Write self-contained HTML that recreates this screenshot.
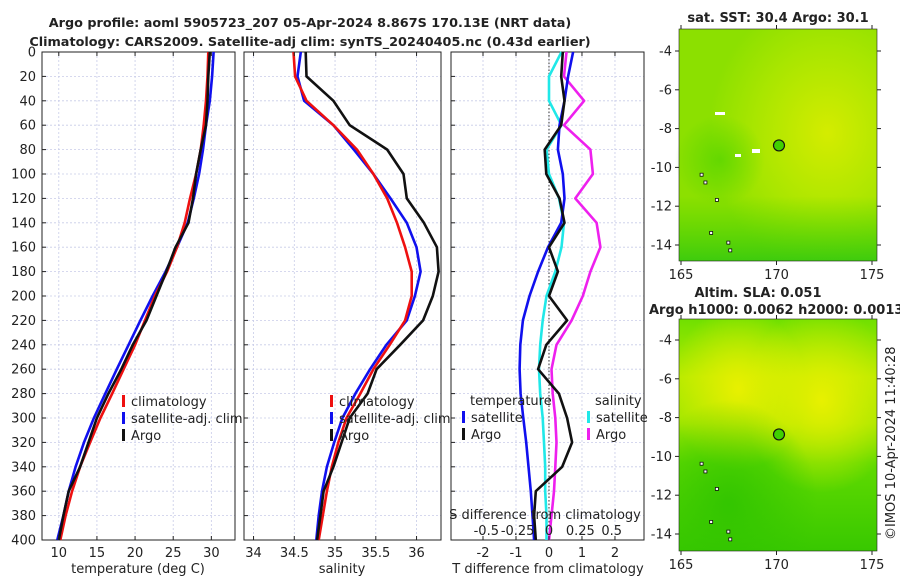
<!DOCTYPE html>
<html><head><meta charset="utf-8"><style>
body{margin:0;background:#fff;width:900px;height:580px;overflow:hidden}
svg{font-family:"DejaVu Sans","Liberation Sans",sans-serif}
</style></head><body>
<svg id="c" width="900" height="580" xmlns="http://www.w3.org/2000/svg">
<defs>
<radialGradient id="g1" cx="0.75" cy="0.45" r="0.6"><stop offset="0" stop-color="#d4ec00"/><stop offset="0.6" stop-color="#aae600"/><stop offset="1" stop-color="#8ce000"/></radialGradient>
<linearGradient id="g1b" x1="0" y1="0" x2="0" y2="1"><stop offset="0.72" stop-color="#40d000" stop-opacity="0"/><stop offset="1" stop-color="#30c810" stop-opacity="0.85"/></linearGradient>
<radialGradient id="g1c" cx="0.5" cy="0.5" r="0.5"><stop offset="0" stop-color="#50d400" stop-opacity="0.7"/><stop offset="1" stop-color="#50d400" stop-opacity="0"/></radialGradient>
<radialGradient id="g2a" cx="0.3" cy="0.3" r="0.35"><stop offset="0" stop-color="#e8f000"/><stop offset="1" stop-color="#e8f000" stop-opacity="0"/></radialGradient>
<radialGradient id="g2b" cx="0.72" cy="0.35" r="0.4"><stop offset="0" stop-color="#e8f000"/><stop offset="1" stop-color="#e8f000" stop-opacity="0"/></radialGradient>
<radialGradient id="g2c" cx="0.25" cy="0.8" r="0.45"><stop offset="0" stop-color="#30c400" stop-opacity="0.9"/><stop offset="1" stop-color="#30c400" stop-opacity="0"/></radialGradient>
<linearGradient id="g2" x1="0" y1="0" x2="0" y2="1"><stop offset="0" stop-color="#70e000"/><stop offset="0.25" stop-color="#b4ea00"/><stop offset="0.45" stop-color="#a0e600"/><stop offset="0.62" stop-color="#60da00"/><stop offset="1" stop-color="#38c800"/></linearGradient>
</defs>
</svg>
<script>
const depths=[0,20,40,60,80,100,120,140,160,180,200,220,240,260,280,300,320,340,360,380,400];
const climT=[29.6,29.5,29.3,29.0,28.6,28.0,27.2,26.5,25.5,24.2,22.6,21.3,20.0,18.5,17.0,15.45,14.1,12.8,11.75,10.9,10.2];
const satT=[30.3,30.1,29.8,29.3,28.9,28.4,27.7,26.9,25.5,24.0,22.3,20.7,19.15,17.6,16.1,14.6,13.3,12.2,11.3,10.6,9.8];
const argoT=[29.8,29.6,29.5,29.3,28.6,28.0,27.6,27.0,25.3,24.1,22.8,21.5,19.7,18.2,16.5,15.0,13.9,12.8,11.3,10.6,10.0];
const climS=[34.49,34.51,34.65,34.98,35.27,35.47,35.64,35.76,35.86,35.94,35.94,35.86,35.67,35.47,35.31,35.14,35.04,34.96,34.9,34.85,34.8];
const satS=[34.58,34.54,34.62,34.98,35.23,35.47,35.68,35.88,36.0,36.05,35.98,35.88,35.63,35.43,35.25,35.09,34.99,34.9,34.84,34.8,34.77];
const argoS=[34.64,34.65,34.98,35.18,35.64,35.84,35.88,36.09,36.25,36.27,36.2,36.08,35.8,35.51,35.4,35.18,35.08,34.98,34.86,34.82,34.78];
const satTdiff=[0.73,0.58,0.47,0.32,0.27,0.42,0.47,0.37,-0.03,-0.33,-0.59,-0.79,-0.87,-0.89,-0.86,-0.78,-0.69,-0.62,-0.55,-0.5,-0.45];
const argoTdiff=[0.42,0.37,0.47,0.37,-0.13,-0.08,0.32,0.47,0.0,0.27,0.0,0.55,-0.08,-0.33,0.3,0.55,0.7,0.4,-0.4,-0.45,-0.4];
const satSdiff=[0.1,0.0,0.0,0.1,-0.02,0.0,0.08,0.12,0.1,0.05,-0.02,-0.05,-0.07,-0.08,-0.07,-0.05,-0.04,-0.03,-0.03,-0.02,-0.02];
const argoSdiff=[0.14,0.12,0.28,0.12,0.33,0.35,0.21,0.38,0.41,0.33,0.27,0.18,0.06,0.02,0.03,0.05,0.06,0.05,0.04,0.02,0.0];
const tTicks=[10,15,20,25,30];
const sTicks=[34,34.5,35,35.5,36];
const dTicks=[-2,-1,0,1,2];
const sdTicks=[-0.5,-0.25,0,0.25,0.5];
const sdLabels=['-0.5','-0.25','0','0.25','0.5'];
const yTicks=[0,20,40,60,80,100,120,140,160,180,200,220,240,260,280,300,320,340,360,380,400];

const svg=document.getElementById('c');const NS='http://www.w3.org/2000/svg';
function el(t,a,p){const e=document.createElementNS(NS,t);for(const k in a)e.setAttribute(k,a[k]);(p||svg).appendChild(e);return e;}
function txt(x,y,s,a,p){const e=el('text',Object.assign({x:x,y:y,'font-size':13,fill:'#222'},a||{}),p);e.textContent=s;return e;}
const Y0=52,Y1=540;const yS=d=>Y0+(d/400)*(Y1-Y0);
function panel(name,x0,x1,vmin,vmax){const xs=v=>x0+(v-vmin)/(vmax-vmin)*(x1-x0);
 const g=el('g',{});
 el('rect',{x:x0,y:Y0,width:x1-x0,height:Y1-Y0,fill:'#fff'},g);
 yTicks.forEach(d=>{el('line',{x1:x0,x2:x1,y1:yS(d),y2:yS(d),stroke:'#c8cce8','stroke-dasharray':'2,2','stroke-width':0.8},g);});
 return {g,xs,x0,x1};}
function frame(P,ticks){const g=P.g;
 ticks.forEach(t=>{const x=P.xs(t);el('line',{x1:x,x2:x,y1:Y0,y2:Y1,stroke:'#c8cce8','stroke-dasharray':'2,2','stroke-width':0.8},g);});
 el('rect',{x:P.x0,y:Y0,width:P.x1-P.x0,height:Y1-Y0,fill:'none',stroke:'#222','stroke-width':1},g);}
function ticksX(P,ticks,labels){ticks.forEach((t,i)=>{const x=P.xs(t);el('line',{x1:x,x2:x,y1:Y1,y2:Y1-4,stroke:'#222'},P.g);el('line',{x1:x,x2:x,y1:Y0,y2:Y0+4,stroke:'#222'},P.g);
 const tt=txt(x,557,labels?labels[i]:String(t),{'text-anchor':'middle'},P.g);});}
function line(P,vals,color,name,w){const pts=vals.map((v,i)=>P.xs(v).toFixed(1)+','+yS(depths[i]).toFixed(1)).join(' ');
 const l=el('polyline',{points:pts,fill:'none',stroke:color,'stroke-width':w||2.6,'stroke-linejoin':'round'},P.g);
 }
function legend(P,x,y,items){items.forEach((it,i)=>{const yy=y+i*17;el('rect',{x:x,y:yy-11,width:3,height:12,fill:it[1]},P.g);const t=txt(x+9,yy,it[0],{},P.g);});}

// panel 1
const P1=panel('temperature-panel',42,235,7.8,33.1);frame(P1,tTicks);
line(P1,satT,'#1010ee','sat-temperature-line');line(P1,climT,'#ee1010','clim-temperature-line');line(P1,argoT,'#111','argo-temperature-line');
ticksX(P1,tTicks);
yTicks.forEach(d=>{const t=txt(36,yS(d)+4.5,String(d),{'text-anchor':'end'});el('line',{x1:42,x2:46,y1:yS(d),y2:yS(d),stroke:'#222'});});
legend(P1,122,406,[['climatology','#ee1010'],['satellite-adj. clim','#1010ee'],['Argo','#111']]);
let t=txt(138,573,'temperature (deg C)',{'text-anchor':'middle'});

// panel 2
const P2=panel('salinity-panel',244,441,33.883,36.3);frame(P2,sTicks);
line(P2,satS,'#1010ee','sat-salinity-line');line(P2,climS,'#ee1010','clim-salinity-line');line(P2,argoS,'#111','argo-salinity-line');
ticksX(P2,sTicks,['34','34.5','35','35.5','36']);
yTicks.forEach(d=>{el('line',{x1:244,x2:248,y1:yS(d),y2:yS(d),stroke:'#222'});});
legend(P2,330,406,[['climatology','#ee1010'],['satellite-adj. clim','#1010ee'],['Argo','#111']]);
t=txt(342,573,'salinity',{'text-anchor':'middle'});

// panel 3
const P3=panel('difference-panel',451,644,-2.97,2.88);frame(P3,dTicks);
el('line',{x1:P3.xs(0),x2:P3.xs(0),y1:Y0,y2:Y1,stroke:'#333','stroke-dasharray':'1.5,2','stroke-width':1},P3.g);
const sx=v=>v*3.8;
line(P3,satSdiff.map(sx),'#20e8e8','sat-salinity-diff-line');
line(P3,argoSdiff.map(sx),'#ee20ee','argo-salinity-diff-line');
line(P3,satTdiff,'#1010ee','sat-temperature-diff-line');
line(P3,argoTdiff,'#111','argo-temperature-diff-line');
yTicks.forEach(d=>{el('line',{x1:451,x2:455,y1:yS(d),y2:yS(d),stroke:'#222'});});
ticksX(P3,dTicks);
txt(470,405,'temperature',{},P3.g);txt(595,405,'salinity',{},P3.g);
legend(P3,462,422,[['satellite','#1010ee'],['Argo','#111']]);
legend(P3,587,422,[['satellite','#20e8e8'],['Argo','#ee20ee']]);
t=txt(545,519,'S difference from climatology',{'text-anchor':'middle'});
sdTicks.forEach((s,i)=>{const tt=txt(P3.xs(sx(s)),535,sdLabels[i],{'text-anchor':'middle'});});
t=txt(548,573,'T difference from climatology',{'text-anchor':'middle'});

// titles
t=txt(310,27,'Argo profile: aoml 5905723_207 05-Apr-2024 8.867S 170.13E (NRT data)',{'text-anchor':'middle','font-weight':'bold','font-size':12.8});
t=txt(310,46,'Climatology: CARS2009. Satellite-adj clim: synTS_20240405.nc (0.43d earlier)',{'text-anchor':'middle','font-weight':'bold','font-size':12.8});

// maps
function map(name,y0,y1,lat0,fill){const x0=679,x1=877;const g=el('g',{});
 fill(g,x0,y0,x1-x0,y1-y0);
 const lx=v=>681+(v-165)*19.1, ly=v=>lat0+(-4-v)*19.4;
 [165,170,175].forEach(v=>{const x=lx(v);el('line',{x1:x,x2:x,y1:y1,y2:y1+4,stroke:'#222'},g);el('line',{x1:x,x2:x,y1:y0,y2:y0-4,stroke:'#222'},g);txt(x,y1+18,String(v),{'text-anchor':'middle'},g);});
 [-4,-6,-8,-10,-12,-14].forEach(v=>{const y=ly(v);el('line',{x1:x0-4,x2:x0,y1:y,y2:y,stroke:'#222'},g);el('line',{x1:x1,x2:x1+4,y1:y,y2:y,stroke:'#222'},g);txt(x0-7,y+4.5,String(v),{'text-anchor':'end'},g);});
 const c=el('circle',{cx:lx(170.13),cy:ly(-8.867),r:5.5,fill:'#40d000',stroke:'#111','stroke-width':1.2},g);
 [[166.2,-10.7],[166.8,-11.6],[167.4,-13.8],[166.5,-13.3],[167.5,-14.2],[166,-10.3]].forEach(p=>el('rect',{x:lx(p[0]),y:ly(p[1]),width:3,height:3,fill:'#fff',stroke:'#111','stroke-width':0.8},g));
 el('rect',{x:x0,y:y0,width:x1-x0,height:y1-y0,fill:'none',stroke:'#222','stroke-width':0.6},g);}
map('sst-map',29,261,51,(g,x,y,w,h)=>{el('rect',{x,y,width:w,height:h,fill:'url(#g1)'},g);
 el('ellipse',{cx:720,cy:160,rx:45,ry:45,fill:'url(#g1c)'},g);
 el('rect',{x,y,width:w,height:h,fill:'url(#g1b)'},g);
 el('rect',{x:752,y:149,width:8,height:4,fill:'#fff'},g);el('rect',{x:715,y:112,width:10,height:3,fill:'#fff'},g);el('rect',{x:735,y:154,width:6,height:3,fill:'#fff'},g);});
map('sla-map',319,551,340,(g,x,y,w,h)=>{el('rect',{x,y,width:w,height:h,fill:'url(#g2)'},g);el('rect',{x,y,width:w,height:h,fill:'url(#g2a)'},g);el('rect',{x,y,width:w,height:h,fill:'url(#g2b)'},g);el('rect',{x,y,width:w,height:h,fill:'url(#g2c)'},g);});
t=txt(778,22,'sat. SST: 30.4 Argo: 30.1',{'text-anchor':'middle','font-weight':'bold'});
t=txt(758,297,'Altim. SLA: 0.051',{'text-anchor':'middle','font-weight':'bold'});
t=txt(649,314,'Argo h1000: 0.0062 h2000: 0.0013',{'font-weight':'bold'});
t=txt(0,0,'©IMOS 10-Apr-2024 11:40:28',{transform:'translate(895,540) rotate(-90)'});
</script>
</body></html>
